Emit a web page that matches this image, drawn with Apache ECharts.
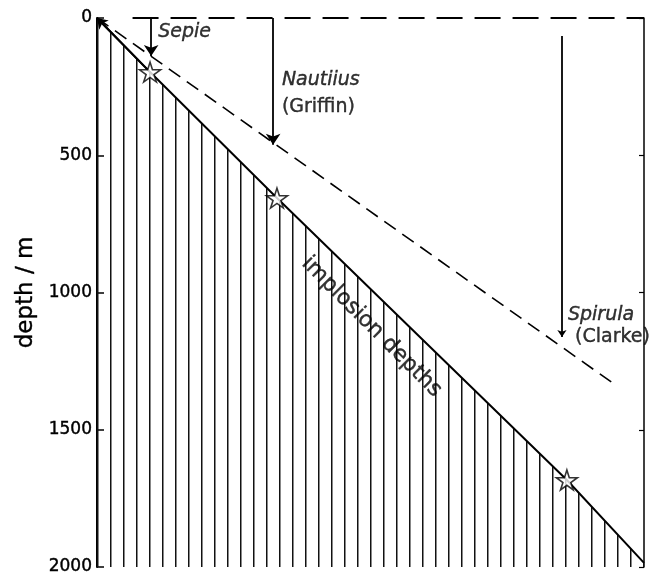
<!DOCTYPE html>
<html>
<head>
<meta charset="utf-8">
<script src="https://cdn.jsdelivr.net/npm/echarts@6/dist/echarts.min.js"></script>
<style>
html,body{margin:0;padding:0;background:#fff;}
#chart{width:649px;height:576px;}
</style>
</head>
<body>
<div id="chart"></div>
<script>
// ---- data ----
const depthTicks = [0, 500, 1000, 1500, 2000];
// implosion-depth line (x in arbitrary horizontal units 0..100, depth in m)
const implosionX = [0, 9.7, 32.9, 85.9, 100];
const implosionDepth = [0, 197, 656, 1683, 1985];
// stars: observed implosion depths
const starSpecies = ['Sepie', 'Nautilus', 'Spirula'];
const starX = [9.7, 32.9, 85.9];
const starDepth = [197, 656, 1683];
// dashed line (living depths)
const dashX = [0, 94.3];
const dashDepth = [0, 1330];
// top (0 m) dashed line
const surfaceX = [6.5, 100];
const surfaceDepth = [0, 0];
// vertical arrows
const arrowX = [9.9, 32.2, 85.0];
const arrowFrom = [0, 0, 66];
const arrowTo = [138, 462, 1162];
// annotations
const noteText = ['Sepie', 'Nautiius', '(Griffin)', 'Spirula', '(Clarke)', 'implosion depths'];
const noteX = [11.2, 33.8, 33.8, 86.1, 87.4, 50.2];
const noteDepth = [51, 226, 324, 1082, 1162, 1125];
const noteItalic = [true, true, false, true, false, false];

// ---- hatch pattern ----
const pc = document.createElement('canvas');
pc.width = 13; pc.height = 8;
const pctx = pc.getContext('2d');
pctx.fillStyle = '#111';
pctx.fillRect(6, 0, 1.5, 8);

const ink = '#000';
const font = 'DejaVu Sans';
const thick = {textBorderColor: '#000', textBorderWidth: 0.4};
const starPath = 'path://M50,0 L61,35 L98,35 L68,57 L79,91 L50,70 L21,91 L32,57 L2,35 L39,35 Z';

const chart = echarts.init(document.getElementById('chart'));
const yBase = {
  type: 'value', inverse: true, min: depthTicks[0], max: depthTicks[depthTicks.length - 1],
  interval: depthTicks[1] - depthTicks[0],
  splitLine: {show: false}
};
chart.setOption({
  animation: false,
  backgroundColor: '#fff',
  grid: {left: 97, right: 5, top: 18, bottom: 9},
  xAxis: {type: 'value', min: 0, max: 100, show: false},
  yAxis: [
    Object.assign({}, yBase, {
      position: 'left',
      name: 'depth / m', nameLocation: 'middle', nameGap: 36,
      nameTextStyle: Object.assign({fontFamily: font, fontSize: 23, color: ink}, thick),
      axisLine: {show: true, lineStyle: {color: ink, width: 2}},
      axisTick: {show: true, inside: true, length: 7, lineStyle: {color: ink, width: 1.5}},
      axisLabel: Object.assign({show: true, fontFamily: font, fontSize: 17, color: ink, margin: 5,
        formatter: v => depthTicks.indexOf(v) >= 0 ? String(v) : ''}, thick)
    }),
    Object.assign({}, yBase, {
      position: 'right',
      axisLine: {show: true, lineStyle: {color: ink, width: 1.5}},
      axisTick: {show: true, inside: true, length: 5, lineStyle: {color: ink, width: 1.2}},
      axisLabel: {show: false}
    })
  ],
  series: [
    {
      name: 'implosion depths', type: 'line', symbol: 'none', z: 2,
      data: implosionX.map((x, i) => [x, implosionDepth[i]]),
      lineStyle: {color: ink, width: 2},
      areaStyle: {origin: 'end', opacity: 1, color: {image: pc, repeat: 'repeat'}}
    },
    {
      name: 'origin arrow', type: 'lines', coordinateSystem: 'cartesian2d', z: 3,
      symbol: ['arrow', 'none'], symbolSize: [10, 13],
      lineStyle: {color: ink, width: 2, opacity: 1},
      data: [{coords: [[implosionX[0], implosionDepth[0]], [implosionX[1], implosionDepth[1]]]}]
    },
    {
      name: 'dashed', type: 'lines', coordinateSystem: 'cartesian2d', z: 3,
      lineStyle: {color: ink, width: 1.6, type: [14, 8], opacity: 1},
      data: [{coords: dashX.map((x, i) => [x, dashDepth[i]])}]
    },
    {
      name: 'surface', type: 'lines', coordinateSystem: 'cartesian2d', z: 3,
      lineStyle: {color: ink, width: 2, type: [26, 12], opacity: 1},
      data: [{coords: surfaceX.map((x, i) => [x, surfaceDepth[i]])}]
    },
    {
      name: 'arrows', type: 'lines', coordinateSystem: 'cartesian2d', z: 4,
      symbol: ['none', 'arrow'], symbolSize: [8, 11],
      lineStyle: {color: ink, width: 1.8, opacity: 1},
      data: arrowX.map((x, i) => ({coords: [[x, arrowFrom[i]], [x, arrowTo[i]]],
        symbolSize: i === 2 ? [5, 7] : [8, 11]}))
    },
    {
      name: 'stars', type: 'scatter', z: 6,
      symbol: starPath, symbolSize: 21, symbolKeepAspect: true,
      itemStyle: {color: '#fff', borderColor: ink, borderWidth: 1.6},
      data: starX.map((x, i) => ({name: starSpecies[i], value: [x, starDepth[i]]}))
    },
    {
      name: 'notes', type: 'scatter', z: 7, symbolSize: 0, silent: true,
      data: noteText.map((t, i) => {
        const last = i === noteText.length - 1;
        return {
          value: [noteX[i], noteDepth[i]],
          label: Object.assign({
            show: true, formatter: t,
            position: last ? 'inside' : 'right', distance: 0,
            rotate: last ? -45 : 0,
            fontFamily: font, fontSize: last ? 22 : 19,
            fontStyle: noteItalic[i] ? 'italic' : 'normal',
            color: ink
          }, thick)
        };
      })
    }
  ]
});
</script>
</body>
</html>
